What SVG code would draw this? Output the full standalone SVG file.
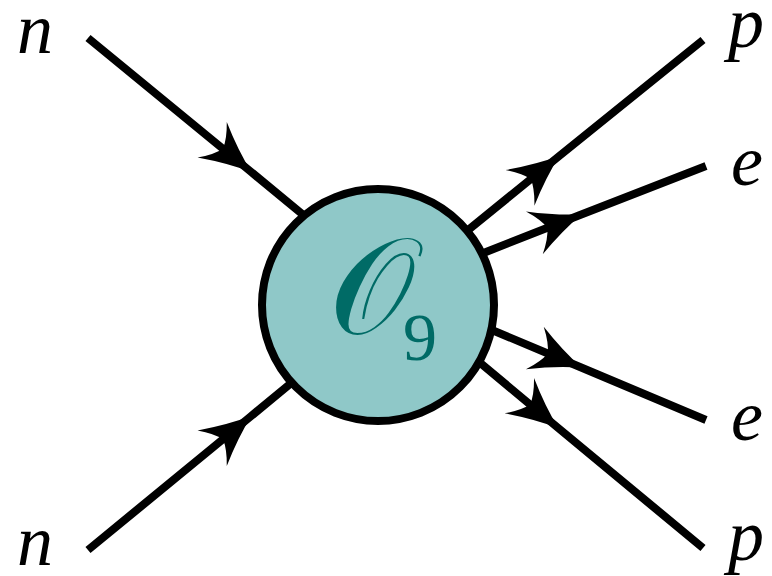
<svg xmlns="http://www.w3.org/2000/svg" width="772" height="576" viewBox="0 0 772 576">
<style>
.ln{fill:none;stroke:#000;stroke-width:8;marker-mid:url(#stealth)}
.lbl{font-family:"Liberation Serif","DejaVu Serif",serif;font-style:italic;font-size:72px;fill:#000}
.op{font-family:"Liberation Serif","DejaVu Serif",serif;fill:#006b66}
</style>
<defs>
<marker id="stealth" markerUnits="userSpaceOnUse" markerWidth="60" markerHeight="60" viewBox="-55 -30 60 60" refX="0" refY="0" orient="auto" overflow="visible">
<path d="M2,0 Q-22,-8 -49,-23 Q-38,-10 -35,0 Q-38,10 -49,23 Q-22,8 2,0 Z" fill="#000"/>
</marker>
</defs>
<rect width="772" height="576" fill="#fff"/>
<g id="connectors">
<path class="ln" d="M88,38 L250,171 L330,237"/>
<path class="ln" d="M88,550 L250,417 L330,351"/>
<path class="ln" d="M430,261 L558,157 L703,40"/>
<path class="ln" d="M430,274 L580,215 L706,166"/>
<path class="ln" d="M430,304 L580,367 L706,420"/>
<path class="ln" d="M430,321 L557,427 L703,548"/>
</g>
<g id="blob">
<circle cx="378" cy="305" r="116" fill="#8fc8c8" stroke="#000" stroke-width="8"/>
<text class="op" x="329" y="333" font-size="136">𝒪<tspan x="403" y="360" font-size="68">9</tspan></text>
</g>
<g id="n1"><text class="lbl" x="17" y="53">n</text></g>
<g id="n2"><text class="lbl" x="17" y="565">n</text></g>
<g id="p1"><text class="lbl" x="728" y="47">p</text></g>
<g id="e1"><text class="lbl" x="731" y="185">e</text></g>
<g id="e2"><text class="lbl" x="731" y="440">e</text></g>
<g id="p2"><text class="lbl" x="728" y="560">p</text></g>
</svg>
